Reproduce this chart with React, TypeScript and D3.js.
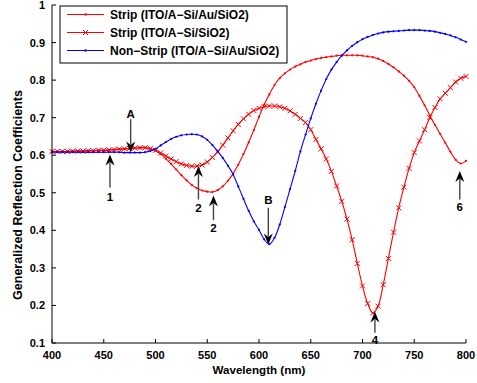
import React from "react";
import * as d3 from "d3";

const wavelengths: number[] = d3.range(400, 805, 5);

// Strip (ITO/A-Si/Au/SiO2) — red, dot markers
const stripAu: number[] = [
  0.610, 0.610, 0.610, 0.610, 0.611, 0.611, 0.611, 0.612, 0.612, 0.613,
  0.613, 0.614, 0.615, 0.616, 0.617, 0.618, 0.619, 0.620, 0.620, 0.617,
  0.612, 0.603, 0.591, 0.577, 0.562, 0.547, 0.533, 0.521, 0.512, 0.506,
  0.503, 0.502, 0.507, 0.517, 0.532, 0.551, 0.575, 0.603, 0.634, 0.667,
  0.702, 0.735, 0.762, 0.787, 0.805, 0.818, 0.828, 0.836, 0.842, 0.848,
  0.852, 0.856, 0.859, 0.861, 0.863, 0.865, 0.866, 0.866, 0.866, 0.866,
  0.865, 0.863, 0.861, 0.857, 0.851, 0.843, 0.834, 0.823, 0.812, 0.798,
  0.781, 0.758, 0.733, 0.706, 0.681, 0.657, 0.633, 0.609, 0.588, 0.578,
  0.585,
];

// Strip (ITO/A-Si/SiO2) — red, x markers
const stripSiO2: number[] = [
  0.610, 0.610, 0.610, 0.610, 0.611, 0.611, 0.611, 0.612, 0.612, 0.613,
  0.613, 0.614, 0.615, 0.616, 0.617, 0.618, 0.619, 0.620, 0.620, 0.618,
  0.613, 0.606, 0.598, 0.590, 0.583, 0.577, 0.573, 0.571, 0.571, 0.574,
  0.582, 0.594, 0.609, 0.627, 0.646, 0.665, 0.682, 0.697, 0.709, 0.719,
  0.725, 0.729, 0.731, 0.731, 0.729, 0.725, 0.718, 0.709, 0.698, 0.687,
  0.668, 0.642, 0.617, 0.590, 0.557, 0.518, 0.477, 0.430, 0.375, 0.312,
  0.252, 0.205, 0.180, 0.198, 0.255, 0.325, 0.395, 0.460, 0.515, 0.565,
  0.607, 0.638, 0.668, 0.700, 0.727, 0.750, 0.765, 0.780, 0.795, 0.805,
  0.810,
];

// Non-Strip (ITO/A-Si/Au/SiO2) — blue, dot markers
const nonStrip: number[] = [
  0.608, 0.608, 0.608, 0.608, 0.608, 0.608, 0.608, 0.608, 0.608, 0.608,
  0.608, 0.608, 0.608, 0.608, 0.607, 0.607, 0.607, 0.607, 0.608, 0.611,
  0.617, 0.626, 0.635, 0.643, 0.649, 0.653, 0.655, 0.656, 0.655, 0.650,
  0.641, 0.627, 0.611, 0.593, 0.572, 0.549, 0.517, 0.484, 0.452, 0.424,
  0.401, 0.376, 0.363, 0.380, 0.415, 0.462, 0.510, 0.558, 0.610, 0.655,
  0.698, 0.737, 0.772, 0.803, 0.828, 0.848, 0.865, 0.879, 0.891, 0.901,
  0.909, 0.915, 0.920, 0.924, 0.927, 0.929, 0.930, 0.931, 0.932, 0.933,
  0.933, 0.933, 0.932, 0.931, 0.929, 0.926, 0.923, 0.919, 0.914, 0.908,
  0.902,
];

const seriesNames = [
  "Strip (ITO/A\u2212Si/Au/SiO2)",
  "Strip (ITO/A\u2212Si/SiO2)",
  "Non\u2212Strip (ITO/A\u2212Si/Au/SiO2)",
];

const xTicks = [400, 450, 500, 550, 600, 650, 700, 750, 800];
const yTicks = [0.1, 0.2, 0.3, 0.4, 0.5, 0.6, 0.7, 0.8, 0.9, 1];

const annLabels = ["A", "1", "2", "2", "B", "4", "6"];
const annX = [476, 456, 541.5, 556, 609, 712, 794];
const annTip = [0.607, 0.602, 0.571, 0.493, 0.362, 0.184, 0.558];
const annTail = [0.696, 0.514, 0.482, 0.427, 0.46, 0.127, 0.482];
const annText = [0.709, 0.49, 0.46, 0.406, 0.482, 0.108, 0.463];

const W = 477;
const H = 383;
const FONT = "'Liberation Sans', Arial, sans-serif";

export default function App() {
  const x = d3.scaleLinear().domain([400, 800]).range([52, 466]);
  const y = d3.scaleLinear().domain([0.1, 1]).range([343, 5]);

  const mk = (vals: number[]) =>
    d3
      .line<number>()
      .x((_, i) => x(wavelengths[i]))
      .y((d) => y(d))
      .curve(d3.curveCatmullRom.alpha(0.5))(vals) || "";

  const red = "#ff0000";
  const blue = "#0000ff";

  const xMarker = (cx: number, cy: number, k: string, c: string) => (
    <path
      key={k}
      d={`M${cx - 2.5},${cy - 2.5}L${cx + 2.5},${cy + 2.5}M${cx - 2.5},${cy + 2.5}L${cx + 2.5},${cy - 2.5}`}
      stroke={c}
      strokeWidth={1}
    />
  );

  const arrowHead = (tx: number, ty: number, dir: number) => {
    const L = 11;
    const hw = 4.5;
    const notch = 3.5;
    const by = ty - dir * L;
    const ny = ty - dir * (L - notch);
    return `M${tx},${ty}L${tx - hw},${by}L${tx},${ny}L${tx + hw},${by}Z`;
  };

  const legendRows = [
    { name: seriesNames[0], color: red, marker: "dot" },
    { name: seriesNames[1], color: red, marker: "x" },
    { name: seriesNames[2], color: blue, marker: "dot" },
  ];

  return (
    <svg
      width={W}
      height={H}
      style={{ position: "absolute", left: 0, top: 0, background: "#fff" }}
      fontFamily={FONT}
    >
      <rect width={W} height={H} fill="#fff" />

      {/* series */}
      <path d={mk(stripAu)} fill="none" stroke={red} strokeWidth={1.1} />
      {stripAu.map((v, i) => (
        <circle key={"a" + i} cx={x(wavelengths[i])} cy={y(v)} r={1.1} fill={red} />
      ))}
      <path d={mk(stripSiO2)} fill="none" stroke={red} strokeWidth={1.1} />
      {stripSiO2.map((v, i) => xMarker(x(wavelengths[i]), y(v), "s" + i, red))}
      <path d={mk(nonStrip)} fill="none" stroke={blue} strokeWidth={1.1} />
      {nonStrip.map((v, i) => (
        <circle key={"n" + i} cx={x(wavelengths[i])} cy={y(v)} r={1.1} fill={blue} />
      ))}

      {/* axes */}
      <line x1={52} y1={y(1)} x2={52} y2={343} stroke="#000" strokeWidth={1} />
      <line x1={52} y1={343} x2={466} y2={343} stroke="#000" strokeWidth={1} />
      {yTicks.map((t) => (
        <g key={"yt" + t}>
          <line x1={52} x2={56} y1={y(t)} y2={y(t)} stroke="#000" />
          <text
            x={45}
            y={y(t)}
            textAnchor="end"
            dominantBaseline="central"
            fontSize={11}
            fontWeight="bold"
          >
            {t === 1 ? "1" : t.toFixed(1)}
          </text>
        </g>
      ))}
      {xTicks.map((t) => (
        <g key={"xt" + t}>
          <line x1={x(t)} x2={x(t)} y1={343} y2={339} stroke="#000" />
          <text x={x(t)} y={359} textAnchor="middle" fontSize={11} fontWeight="bold">
            {t}
          </text>
        </g>
      ))}
      <text x={259} y={374} textAnchor="middle" fontSize={11.6} fontWeight="bold">
        Wavelength (nm)
      </text>
      <text
        transform={`translate(22,195) rotate(-90)`}
        textAnchor="middle"
        fontSize={12.5}
        fontWeight="bold"
      >
        Generalized Reflection Coefficients
      </text>

      {/* annotations */}
      {annLabels.map((lab, i) => {
        const ax = x(annX[i]);
        const ty = y(annTip[i]);
        const tl = y(annTail[i]);
        const dir = tl < ty ? 1 : -1;
        return (
          <g key={"ann" + i}>
            <line x1={ax} x2={ax} y1={tl} y2={ty - dir * 8} stroke="#444" strokeWidth={1.4} />
            <path d={arrowHead(ax, ty, dir)} fill="#000" />
            <text
              x={ax}
              y={y(annText[i])}
              textAnchor="middle"
              dominantBaseline="central"
              fontSize={11.5}
              fontWeight="bold"
            >
              {lab}
            </text>
          </g>
        );
      })}

      {/* legend */}
      <rect x={60} y={6} width={227} height={57} fill="#fff" stroke="#000" strokeWidth={1} />
      {legendRows.map((r, i) => {
        const ly = 14.5 + i * 18;
        return (
          <g key={"lg" + i}>
            <line x1={67} x2={104} y1={ly} y2={ly} stroke={r.color} strokeWidth={1.1} />
            {r.marker === "dot" ? (
              <circle cx={85.5} cy={ly} r={1.2} fill={r.color} />
            ) : (
              xMarker(85.5, ly, "lx" + i, r.color)
            )}
            <text x={110} y={ly} dominantBaseline="central" fontSize={12} fontWeight="bold">
              {r.name}
            </text>
          </g>
        );
      })}
    </svg>
  );
}
